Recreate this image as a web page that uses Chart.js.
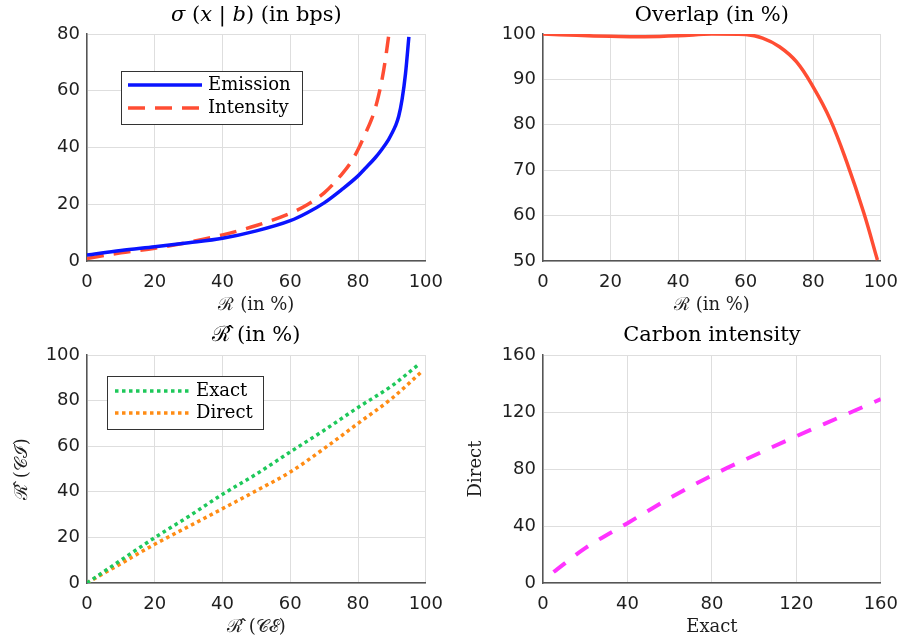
<!DOCTYPE html>
<html>
<head>
<meta charset="utf-8">
<script src="https://cdn.jsdelivr.net/npm/chart.js@4.4.0/dist/chart.umd.min.js"></script>
<style>
  html, body { margin: 0; padding: 0; background: #fff; }
  #wrap { position: relative; width: 909px; height: 642px; }
  canvas { position: absolute; }
</style>
</head>
<body>
<div id="wrap">
  <canvas id="sigma" width="454" height="320" style="left:0;top:0"></canvas>
  <canvas id="overlap" width="455" height="320" style="left:454px;top:0"></canvas>
  <canvas id="rhat" width="454" height="322" style="left:0;top:320px"></canvas>
  <canvas id="carbon" width="455" height="322" style="left:454px;top:320px"></canvas>
</div>
<script>
// sigma(x | b) in bps against R (%)
var emissionR = [0, 10, 20, 30, 40, 50, 60, 65, 70, 75, 80, 82, 85, 87, 89, 90, 91, 92, 93, 94, 95];
var emissionSigma = [2.1, 3.7, 5.0, 6.4, 8.0, 10.6, 14.2, 17, 20.5, 25, 30, 32.5, 36.3, 39.3, 42.8, 45, 47.5, 51, 57, 66, 79];
var intensityR = [0, 10, 20, 30, 40, 50, 60, 65, 70, 75, 78, 80, 82, 84, 85, 86, 87, 88, 89];
var intensitySigma = [0.9, 2.9, 4.5, 6.6, 9.2, 12.5, 16.8, 19.8, 24, 30.3, 35, 39.3, 44.5, 50, 53.5, 58, 63.5, 70.5, 79];

// overlap (%) against R (%)
var overlapR = [0, 10, 20, 30, 40, 50, 60, 65, 70, 75, 80, 85, 90, 95, 99];
var overlapPct = [100, 99.7, 99.5, 99.4, 99.6, 100, 99.9, 99.1, 97.2, 93.9, 88.3, 81.2, 71.6, 60.5, 50.2];

// R hat: CE vs CI
var exactCE = [0, 10, 20, 30, 40, 50, 60, 70, 80, 90, 98];
var exactCI = [0, 10, 19.9, 29.2, 38.9, 47.8, 57.5, 67, 77, 86.5, 96];
var directCE = [0, 10, 20, 30, 40, 50, 60, 70, 80, 90, 99];
var directCI = [0, 8.5, 17, 24.8, 32.6, 40.5, 48.7, 59, 70, 81, 93];

// carbon intensity: exact vs direct
var carbonExact = [5, 20, 40, 60, 80, 100, 120, 140, 160];
var carbonDirect = [7.7, 24.5, 42, 59.5, 75.5, 89.5, 103, 116, 129];

function pts(xs, ys) {
  return xs.map(function (x, i) { return { x: x, y: ys[i] }; });
}

var tickFont = { family: 'DejaVu Sans', size: 18 };
var labelFont = { family: 'DejaVu Serif', size: 18 };
var ink = '#1e1e1e';

// title drawn from plain / italic pieces
var panelTitle = {
  id: 'panelTitle',
  afterDraw: function (chart, args, opts) {
    var segs = opts.segments;
    if (!segs) return;
    var ctx = chart.ctx;
    var fontFor = function (s) { return (s.i ? 'italic ' : '') + '21px "DejaVu Serif"'; };
    ctx.save();
    ctx.textBaseline = 'middle';
    ctx.fillStyle = '#000';
    var w = 0;
    segs.forEach(function (s) { ctx.font = fontFor(s); w += ctx.measureText(s.t).width; });
    var x = (chart.chartArea.left + chart.chartArea.right) / 2 - w / 2;
    segs.forEach(function (s) {
      ctx.font = fontFor(s);
      ctx.fillText(s.t, x, opts.y);
      x += ctx.measureText(s.t).width;
    });
    ctx.restore();
  }
};

// boxed legend inside the plot area
var boxLegend = {
  id: 'boxLegend',
  afterDraw: function (chart, args, opts) {
    if (!opts || opts.w === undefined) return;
    var ctx = chart.ctx, a = chart.chartArea;
    var bx = Math.round(a.left + opts.x), by = Math.round(a.top + opts.y);
    ctx.save();
    ctx.fillStyle = '#fff';
    ctx.fillRect(bx, by, opts.w, opts.h);
    ctx.strokeStyle = '#333';
    ctx.lineWidth = 1;
    ctx.strokeRect(bx + 0.5, by + 0.5, opts.w, opts.h);
    chart.data.datasets.forEach(function (ds, i) {
      var y = by + opts.rows[i];
      ctx.strokeStyle = ds.borderColor;
      ctx.lineWidth = ds.borderWidth;
      ctx.lineCap = 'butt';
      ctx.setLineDash(ds.borderDash || []);
      ctx.beginPath();
      ctx.moveTo(bx + opts.line[0], y);
      ctx.lineTo(bx + opts.line[1], y);
      ctx.stroke();
      ctx.setLineDash([]);
      ctx.fillStyle = '#000';
      ctx.font = '18px "DejaVu Serif"';
      ctx.textBaseline = 'middle';
      ctx.fillText(ds.label, bx + opts.text, y);
    });
    ctx.restore();
  }
};

function axis(p, horizontal) {
  return {
    type: 'linear',
    min: p.min, max: p.max,
    ticks: { stepSize: p.step, font: tickFont, color: ink, padding: horizontal ? 11 : 7 },
    grid: { color: '#dedede', lineWidth: 1, drawTicks: false },
    border: { color: '#555', width: 1.5 },
    title: {
      display: !!p.title, text: p.title || '', font: labelFont, color: ink,
      padding: horizontal ? { top: 0, bottom: 4 } : { top: 12, bottom: 0 }
    },
    afterFit: function (s) {
      if (horizontal) s.height = p.size; else s.width = p.size;
    }
  };
}

function options(p) {
  return {
    responsive: false,
    animation: false,
    layout: { padding: { top: p.top, right: p.right, left: 0, bottom: 0 } },
    elements: { point: { radius: 0 }, line: { borderCapStyle: 'butt', cubicInterpolationMode: 'monotone' } },
    plugins: {
      legend: { display: false },
      tooltip: { enabled: false },
      panelTitle: { segments: p.title, y: 16 },
      boxLegend: p.legend || false
    },
    scales: { x: axis(p.x, true), y: axis(p.y, false) }
  };
}

Chart.register(panelTitle, boxLegend);

new Chart(document.getElementById('sigma'), {
  type: 'line',
  data: {
    datasets: [
      { label: 'Emission', data: pts(emissionR, emissionSigma), borderColor: '#0a14ff', borderWidth: 3.5 },
      { label: 'Intensity', data: pts(intensityR, intensitySigma), borderColor: '#ff4d33', borderWidth: 3.5, borderDash: [17, 10] }
    ]
  },
  options: options({
    top: 34, right: 21,
    title: [{ t: 'σ', i: true }, { t: ' (' }, { t: 'x', i: true }, { t: ' | ' }, { t: 'b', i: true }, { t: ') (in bps)' }],
    x: { min: 0, max: 100, step: 20, title: 'ℛ (in %)', size: 59 },
    y: { min: 0, max: 80, step: 20, size: 87 },
    legend: { x: 34, y: 37, w: 181, h: 53, rows: [14, 37], line: [7, 81], text: 87 }
  })
});

new Chart(document.getElementById('overlap'), {
  type: 'line',
  data: {
    datasets: [
      { label: 'Overlap', data: pts(overlapR, overlapPct), borderColor: '#ff4d33', borderWidth: 3.5,
        cubicInterpolationMode: 'default', tension: 0.4 }
    ]
  },
  options: options({
    top: 34, right: 20,
    title: [{ t: 'Overlap (in %)' }],
    x: { min: 0, max: 100, step: 20, title: 'ℛ (in %)', size: 59 },
    y: { min: 50, max: 100, step: 10, size: 89 }
  })
});

new Chart(document.getElementById('rhat'), {
  type: 'line',
  data: {
    datasets: [
      { label: 'Exact', data: pts(exactCE, exactCI), borderColor: '#1ec85a', borderWidth: 3.5, borderDash: [3.5, 3.5] },
      { label: 'Direct', data: pts(directCE, directCI), borderColor: '#ff8c14', borderWidth: 3.5, borderDash: [3.5, 3.5] }
    ]
  },
  options: options({
    top: 35, right: 21,
    title: [{ t: 'ℛ̂ (in %)' }],
    x: { min: 0, max: 100, step: 20, title: 'ℛ̂ (𝒞ℰ)', size: 59 },
    y: { min: 0, max: 100, step: 20, title: 'ℛ̂ (𝒞ℐ)', size: 87 },
    legend: { x: 20, y: 21, w: 156, h: 53, rows: [15, 37], line: [8, 83], text: 89 }
  })
});

new Chart(document.getElementById('carbon'), {
  type: 'line',
  data: {
    datasets: [
      { label: 'Direct', data: pts(carbonExact, carbonDirect), borderColor: '#ff33ff', borderWidth: 4, borderDash: [15, 13] }
    ]
  },
  options: options({
    top: 35, right: 20,
    title: [{ t: 'Carbon intensity' }],
    x: { min: 0, max: 160, step: 40, title: 'Exact', size: 59 },
    y: { min: 0, max: 160, step: 40, title: 'Direct', size: 89 }
  })
});
</script>
</body>
</html>
